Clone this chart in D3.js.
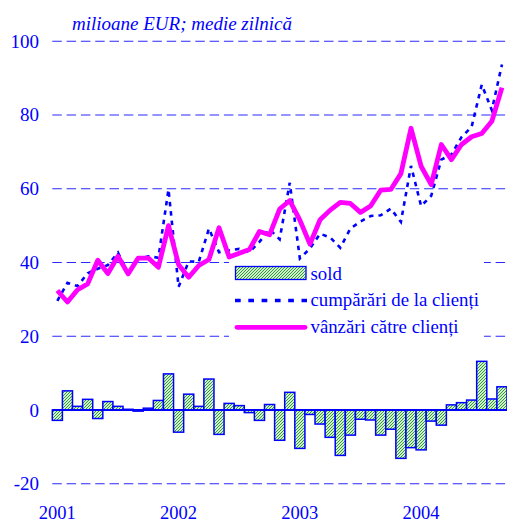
<!DOCTYPE html>
<html>
<head>
<meta charset="utf-8">
<script src="https://cdn.jsdelivr.net/npm/d3@7"></script>
<style>
  html, body { margin: 0; padding: 0; background: #fff; }
  svg { display: block; }
  text { font-family: "Liberation Serif", "Times New Roman", serif; fill: #0000ff; }
</style>
</head>
<body>
<svg id="chart" width="507" height="522"></svg>
<script>
// ---- data ----
const months = [
  "2001-01","2001-02","2001-03","2001-04","2001-05","2001-06","2001-07","2001-08","2001-09","2001-10","2001-11","2001-12",
  "2002-01","2002-02","2002-03","2002-04","2002-05","2002-06","2002-07","2002-08","2002-09","2002-10","2002-11","2002-12",
  "2003-01","2003-02","2003-03","2003-04","2003-05","2003-06","2003-07","2003-08","2003-09","2003-10","2003-11","2003-12",
  "2004-01","2004-02","2004-03","2004-04","2004-05","2004-06","2004-07","2004-08","2004-09"
];
const sold = [
  -2.8, 5.2, 1.0, 2.9, -2.3, 2.3, 1.0, 0.2, -0.3, 0.5, 2.6, 9.8,
  -6.0, 4.3, 1.0, 8.4, -6.6, 1.8, 1.2, -0.7, -2.8, 1.5, -8.2, 4.8,
  -10.4, -1.2, -3.8, -7.4, -12.3, -6.8, -2.5, -2.7, -6.8, -5.2, -13.1, -10.2,
  -10.8, -3.0, -4.1, 1.4, 2.0, 2.7, 13.2, 3.0, 6.3
];
const cumparari = [
  29.6, 34.5, 33.6, 37.1, 38.3, 39.3, 42.7, 37.1, 40.9, 41.7, 41.3, 59.8,
  33.4, 40.3, 40.2, 49.2, 42.8, 43.3, 43.7, 42.8, 45.6, 49.0, 46.3, 61.6,
  41.1, 43.8, 47.8, 46.8, 44.0, 49.2, 51.1, 52.6, 52.8, 54.6, 51.0, 66.2,
  55.3, 58.1, 67.9, 69.3, 74.0, 76.8, 88.2, 81.3, 93.7
];
const vanzari = [
  32.4, 29.3, 32.6, 34.2, 40.6, 37.0, 41.7, 36.9, 41.2, 41.2, 38.7, 50.0,
  39.4, 36.0, 39.2, 40.8, 49.4, 41.5, 42.5, 43.5, 48.4, 47.5, 54.5, 56.8,
  51.5, 45.0, 51.6, 54.2, 56.3, 56.0, 53.6, 55.3, 59.6, 59.8, 64.1, 76.4,
  66.1, 61.1, 72.0, 67.9, 72.0, 74.1, 75.0, 78.3, 87.4
];
const yTicks = [-20, 0, 20, 40, 60, 80, 100];
const yearLabels = ["2001", "2002", "2003", "2004"];
const yearMonths = ["2001-01", "2002-01", "2003-01", "2004-01"];
const title = "milioane EUR; medie zilnică";
const legendLabels = ["sold", "cumpărări de la clienți", "vânzări către clienți"];

// ---- chart ----
const svg = d3.select("#chart");
const x = d3.scaleBand().domain(months).range([52.3, 507]).padding(0);
const y = d3.scaleLinear().domain([-20, 100]).range([483.8, 41.2]);
const blue = "#0000ff";

const defs = svg.append("defs");
const pat = defs.append("pattern")
  .attr("id", "hatch").attr("patternUnits", "userSpaceOnUse")
  .attr("width", 3).attr("height", 3);
pat.append("rect").attr("width", 3).attr("height", 3).attr("fill", "#d2f0cc");
pat.append("path").attr("d", "M-1,1 l2,-2 M0,3 l3,-3 M2,4 l2,-2")
  .attr("stroke", "#2e9a3a").attr("stroke-width", 1.0);

// gridlines
svg.append("g").selectAll("line")
  .data(yTicks.filter(d => d !== 0))
  .join("line")
  .attr("x1", 52.3).attr("x2", 507)
  .attr("y1", d => y(d)).attr("y2", d => y(d))
  .attr("stroke", "#2a2aff").attr("stroke-width", 1.1)
  .attr("stroke-dasharray", "9.5,4.8");

// y labels
svg.append("g").selectAll("text")
  .data(yTicks).join("text")
  .attr("x", 39).attr("y", d => y(d) + 6.5)
  .attr("text-anchor", "end")
  .attr("font-size", 19)
  .text(d => d);

// bars
svg.append("g").selectAll("rect")
  .data(months.map((m, i) => ({ m, v: sold[i] })))
  .join("rect")
  .attr("x", d => x(d.m))
  .attr("width", x.bandwidth())
  .attr("y", d => y(Math.max(0, d.v)))
  .attr("height", d => Math.abs(y(d.v) - y(0)))
  .attr("fill", "url(#hatch)")
  .attr("stroke", blue).attr("stroke-width", 1.5);

// zero line
svg.append("line")
  .attr("x1", 52.3).attr("x2", 507)
  .attr("y1", y(0)).attr("y2", y(0))
  .attr("stroke", blue).attr("stroke-width", 2);

const cx = m => x(m) + x.bandwidth() / 2;

// purchases (dotted)
svg.append("path")
  .datum(months.map((m, i) => [cx(m), y(cumparari[i])]))
  .attr("d", d3.line())
  .attr("fill", "none").attr("stroke", blue)
  .attr("stroke-width", 2.6).attr("stroke-dasharray", "4.5,5");

// sales (magenta)
svg.append("path")
  .datum(months.map((m, i) => [cx(m), y(vanzari[i])]))
  .attr("d", d3.line())
  .attr("fill", "none").attr("stroke", "#ff00ff")
  .attr("stroke-width", 4.8).attr("stroke-linejoin", "round");

// legend
const lg = svg.append("g");
lg.append("rect").attr("x", 229).attr("y", 261.5).attr("width", 255).attr("height", 79).attr("fill", "#fff");
lg.append("rect").attr("x", 235.5).attr("y", 266.5).attr("width", 70.5).attr("height", 13)
  .attr("fill", "url(#hatch)").attr("stroke", blue).attr("stroke-width", 1.3);
lg.append("line").attr("x1", 235).attr("x2", 307).attr("y1", 300.5).attr("y2", 300.5)
  .attr("stroke", blue).attr("stroke-width", 3.3).attr("stroke-dasharray", "5.7,7.6");
lg.append("line").attr("x1", 237).attr("x2", 305).attr("y1", 327.3).attr("y2", 327.3)
  .attr("stroke", "#ff00ff").attr("stroke-width", 4.8).attr("stroke-linecap", "round");
lg.selectAll("text").data(legendLabels).join("text")
  .attr("x", 310.5)
  .attr("y", (d, i) => [279.5, 306, 333][i])
  .attr("font-size", 18.8)
  .text(d => d);

// x labels
svg.append("g").selectAll("text")
  .data(yearLabels).join("text")
  .attr("x", (d, i) => cx(yearMonths[i]))
  .attr("y", 518.5)
  .attr("text-anchor", "middle")
  .attr("font-size", 18.5)
  .text(d => d);

// title
svg.append("text")
  .attr("x", 72).attr("y", 29.5)
  .attr("font-size", 19).attr("font-style", "italic")
  .text(title);
</script>
</body>
</html>
